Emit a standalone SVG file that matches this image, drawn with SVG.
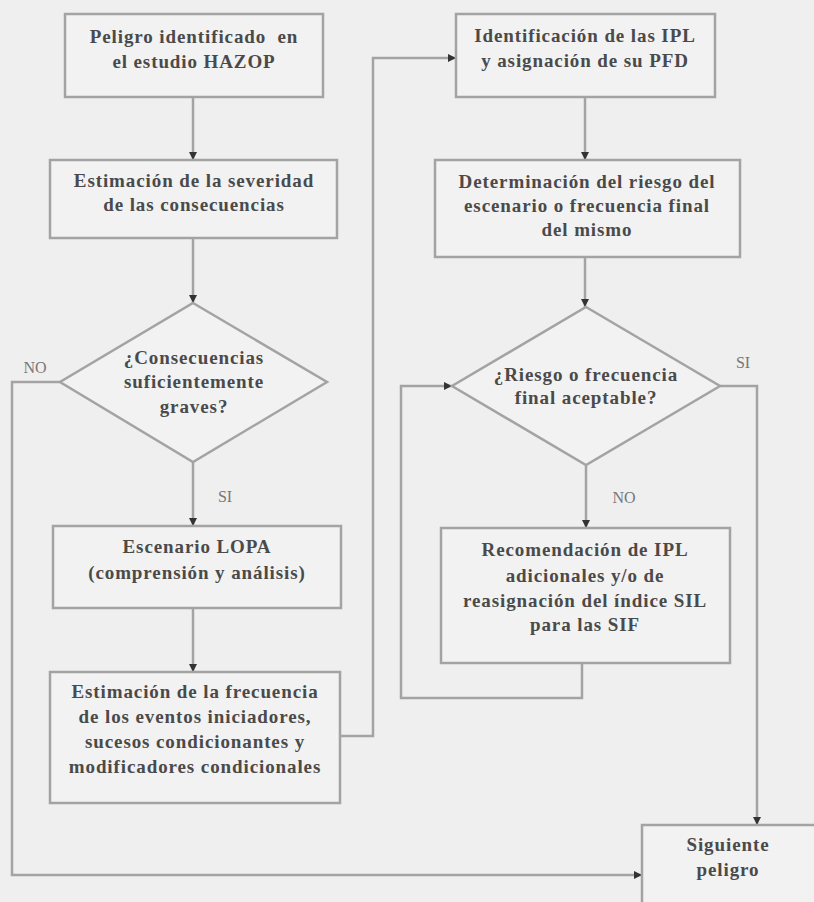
<svg xmlns="http://www.w3.org/2000/svg" width="814" height="902" viewBox="0 0 814 902">
<defs>
<marker id="ah" markerUnits="userSpaceOnUse" markerWidth="10" markerHeight="10" refX="9" refY="5" orient="auto">
<path d="M1,1 L9,5 L1,9 Z" fill="#333"/>
</marker>
<style>
.box{fill:#f2f2f2;stroke:#a3a3a3;stroke-width:2.5}
.t{font-family:'Liberation Serif','DejaVu Serif',serif;font-weight:bold;font-size:19px;fill:#4a4a4a;text-anchor:middle;letter-spacing:0.9px}
.lbl{font-family:'Liberation Serif','DejaVu Serif',serif;font-size:16px;fill:#777;text-anchor:middle}
.c{fill:none;stroke:#a3a3a3;stroke-width:2.5}
.ca{fill:none;stroke:#a3a3a3;stroke-width:2.5;marker-end:url(#ah)}
</style>
</defs>
<rect width="814" height="902" fill="#efefef"/>
<g id="connectors">
<path class="ca" d="M193,97 V160"/>
<path class="ca" d="M193,238 V303"/>
<path class="ca" d="M193,462 V526"/>
<path class="ca" d="M193,608 V672"/>
<path class="ca" d="M340,736 H373 V58 H456"/>
<path class="ca" d="M585,97 V160"/>
<path class="ca" d="M585,257 V307"/>
<path class="ca" d="M586,465 V528"/>
<path class="ca" d="M582,663 V698 H401 V386 H452"/>
<path class="ca" d="M720,386 H757 V825"/>
<path class="ca" d="M60,382 H12 V875 H642"/>
<text class="lbl" x="35" y="373">NO</text>
<text class="lbl" x="225" y="502">SI</text>
<text class="lbl" x="743" y="368">SI</text>
<text class="lbl" x="624" y="503">NO</text>
</g>
<g id="n1">
<rect class="box" x="65" y="14" width="258" height="83"/>
<text class="t" x="194" y="43" xml:space="preserve">Peligro identificado  en</text>
<text class="t" x="194" y="68">el estudio HAZOP</text>
</g>
<g id="n2">
<rect class="box" x="50" y="160" width="287" height="78"/>
<text class="t" x="194" y="187">Estimación de la severidad</text>
<text class="t" x="194" y="211">de las consecuencias</text>
</g>
<g id="n3">
<polygon class="box" points="193,303 327,382 193,462 60,382"/>
<text class="t" x="194" y="364">¿Consecuencias</text>
<text class="t" x="194" y="388">suficientemente</text>
<text class="t" x="194" y="413">graves?</text>
</g>
<g id="n4">
<rect class="box" x="53" y="526" width="288" height="82"/>
<text class="t" x="197" y="553">Escenario LOPA</text>
<text class="t" x="197" y="579">(comprensión y análisis)</text>
</g>
<g id="n5">
<rect class="box" x="50" y="672" width="290" height="131"/>
<text class="t" x="195" y="698">Estimación de la frecuencia</text>
<text class="t" x="195" y="723">de los eventos iniciadores,</text>
<text class="t" x="195" y="748">sucesos condicionantes y</text>
<text class="t" x="195" y="773">modificadores condicionales</text>
</g>
<g id="n6">
<rect class="box" x="456" y="14" width="259" height="83"/>
<text class="t" x="585" y="42">Identificación de las IPL</text>
<text class="t" x="585" y="67">y asignación de su PFD</text>
</g>
<g id="n7">
<rect class="box" x="435" y="160" width="305" height="97"/>
<text class="t" x="587" y="188">Determinación del riesgo del</text>
<text class="t" x="587" y="212">escenario o frecuencia final</text>
<text class="t" x="587" y="236">del mismo</text>
</g>
<g id="n8">
<polygon class="box" points="586,307 720,386 586,465 452,386"/>
<text class="t" x="586" y="381">¿Riesgo o frecuencia</text>
<text class="t" x="586" y="404">final aceptable?</text>
</g>
<g id="n9">
<rect class="box" x="441" y="528" width="289" height="135"/>
<text class="t" x="585" y="556">Recomendación de IPL</text>
<text class="t" x="585" y="582">adicionales y/o de</text>
<text class="t" x="585" y="607">reasignación del índice SIL</text>
<text class="t" x="585" y="631">para las SIF</text>
</g>
<g id="n10">
<rect class="box" x="642" y="825" width="180" height="90"/>
<text class="t" x="728" y="851">Siguiente</text>
<text class="t" x="728" y="876">peligro</text>
</g>
</svg>
